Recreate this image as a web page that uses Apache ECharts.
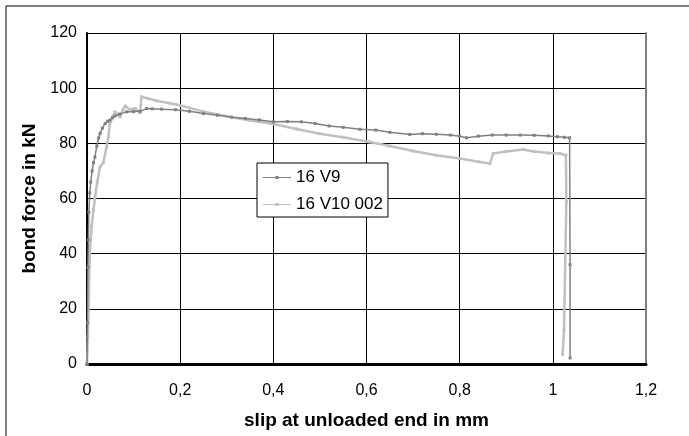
<!DOCTYPE html>
<html>
<head>
<meta charset="utf-8">
<script src="https://cdn.jsdelivr.net/npm/echarts@6/dist/echarts.min.js"></script>
<style>html,body{margin:0;padding:0;background:#fff}#c{width:689px;height:436px}</style>
</head>
<body>
<div id="c"></div>
<script>
var seriesNames = ['16 V9', '16 V10 002'];
var xTicks = [0, 0.2, 0.4, 0.6, 0.8, 1, 1.2];
var yTicks = [0, 20, 40, 60, 80, 100, 120];
var v9 = [[0,0],[0.001,15],[0.002,35],[0.003,45],[0.004,55],[0.006,62],[0.008,66],[0.011,70],[0.014,73],[0.017,75],[0.021,79],[0.025,82],[0.028,83.6],[0.033,85.5],[0.039,87.2],[0.044,88],[0.049,88.4],[0.055,89.3],[0.06,89.9],[0.07,90.6],[0.085,91.4],[0.1,91.5],[0.114,91.6],[0.128,92.6],[0.14,92.5],[0.16,92.4],[0.19,92.2],[0.22,91.6],[0.25,90.8],[0.28,90.2],[0.31,89.5],[0.34,89],[0.37,88.5],[0.4,87.8],[0.43,87.9],[0.46,87.8],[0.49,87.2],[0.52,86.3],[0.55,85.8],[0.586,85.1],[0.62,84.8],[0.65,84],[0.693,83.2],[0.72,83.5],[0.75,83.3],[0.78,83],[0.8,82.6],[0.815,82],[0.84,82.6],[0.87,83],[0.9,83],[0.93,83],[0.96,82.9],[0.99,82.7],[1.01,82.4],[1.025,82.2],[1.036,82],[1.037,36],[1.037,2.2]];
var v10 = [[0,0],[0.002,10],[0.004,25],[0.006,40],[0.01,50],[0.014,56],[0.017,60],[0.022,66],[0.028,71.5],[0.035,73],[0.042,78.7],[0.046,82.4],[0.049,87.2],[0.055,89.5],[0.06,91.4],[0.065,90.5],[0.071,89.6],[0.077,92],[0.082,93.5],[0.092,92.2],[0.103,92.6],[0.114,91.1],[0.117,96.9],[0.13,96.3],[0.15,95.4],[0.178,94.5],[0.2,93.8],[0.25,91.5],[0.3,89.8],[0.35,88.3],[0.393,87.3],[0.45,85.2],[0.5,83.5],[0.55,82.2],[0.607,80.5],[0.65,79],[0.7,77.2],[0.75,75.7],[0.8,74.5],[0.84,73.3],[0.865,72.7],[0.872,76.3],[0.9,77],[0.936,77.8],[0.96,77],[0.99,76.5],[1.015,76.3],[1.028,75.7],[1.029,58.8],[1.024,12.3],[1.021,3.5]];

var chart = echarts.init(document.getElementById('c'), null, {renderer: 'canvas'});
var font = 'Liberation Sans, Arial, sans-serif';
function fmt(v){ return String(v).replace('.', ','); }
var legendIcon = 'path://M0,1 H28 V2 H0 Z M12.5,0 H15.5 V3 H12.5 Z';
chart.setOption({
  animation: false,
  backgroundColor: '#fff',
  graphic: [{
    type: 'rect', shape: {x: 6, y: 6, width: 800, height: 600},
    style: {fill: 'none', stroke: '#000', lineWidth: 1}, z: -1
  }],
  grid: {left: 87, right: 43, top: 33, bottom: 72, containLabel: false},
  legend: {
    orient: 'vertical', left: 257, top: 163,
    backgroundColor: '#fff', borderColor: '#000', borderWidth: 1,
    padding: [6, 5, 4, 6], itemWidth: 28, itemHeight: 3, itemGap: 10, itemTextGap: 5,
    textStyle: {fontFamily: font, fontSize: 17, color: '#000'},
    data: [{name: seriesNames[0], icon: legendIcon}, {name: seriesNames[1], icon: legendIcon}]
  },
  xAxis: {
    type: 'value', min: 0, max: 1.2, interval: 0.2,
    name: 'slip at unloaded end in mm', nameLocation: 'middle', nameGap: 47,
    nameTextStyle: {fontFamily: font, fontSize: 19, fontWeight: 'bold', color: '#000'},
    axisLine: {lineStyle: {color: '#000', width: 3}},
    axisTick: {show: false},
    axisLabel: {fontFamily: font, fontSize: 16, color: '#000', margin: 19,
      formatter: function(v){ var r = Math.round(v*10)/10; return xTicks.indexOf(r) >= 0 ? fmt(r) : ''; }},
    splitLine: {show: true, lineStyle: {color: '#000', width: 1}}
  },
  yAxis: [{
    type: 'value', min: 0, max: 120, interval: 20,
    name: 'bond force in kN', nameLocation: 'middle', nameGap: 42,
    nameTextStyle: {fontFamily: font, fontSize: 19, fontWeight: 'bold', color: '#000'},
    axisLine: {show: true, lineStyle: {color: '#000', width: 2}},
    axisTick: {show: false},
    axisLabel: {fontFamily: font, fontSize: 16, color: '#000', margin: 10,
      formatter: function(v){ return yTicks.indexOf(v) >= 0 ? String(v) : ''; }},
    splitLine: {show: true, lineStyle: {color: '#000', width: 1}}
  }, {
    type: 'value', min: 0, max: 120, interval: 20, position: 'right',
    axisLine: {show: true, lineStyle: {color: '#808080', width: 2}},
    axisTick: {show: false}, axisLabel: {show: false}, splitLine: {show: false}
  }],
  series: [{
    name: seriesNames[0], type: 'line', data: v9,
    symbol: 'rect', symbolSize: 3, showAllSymbol: true,
    lineStyle: {color: '#808080', width: 1.5},
    itemStyle: {color: '#808080'}, z: 3
  }, {
    name: seriesNames[1], type: 'line', data: v10,
    symbol: 'rect', symbolSize: 3, showAllSymbol: true,
    lineStyle: {color: '#c0c0c0', width: 2.5},
    itemStyle: {color: '#c0c0c0'}, z: 2
  }]
});
</script>
</body>
</html>
